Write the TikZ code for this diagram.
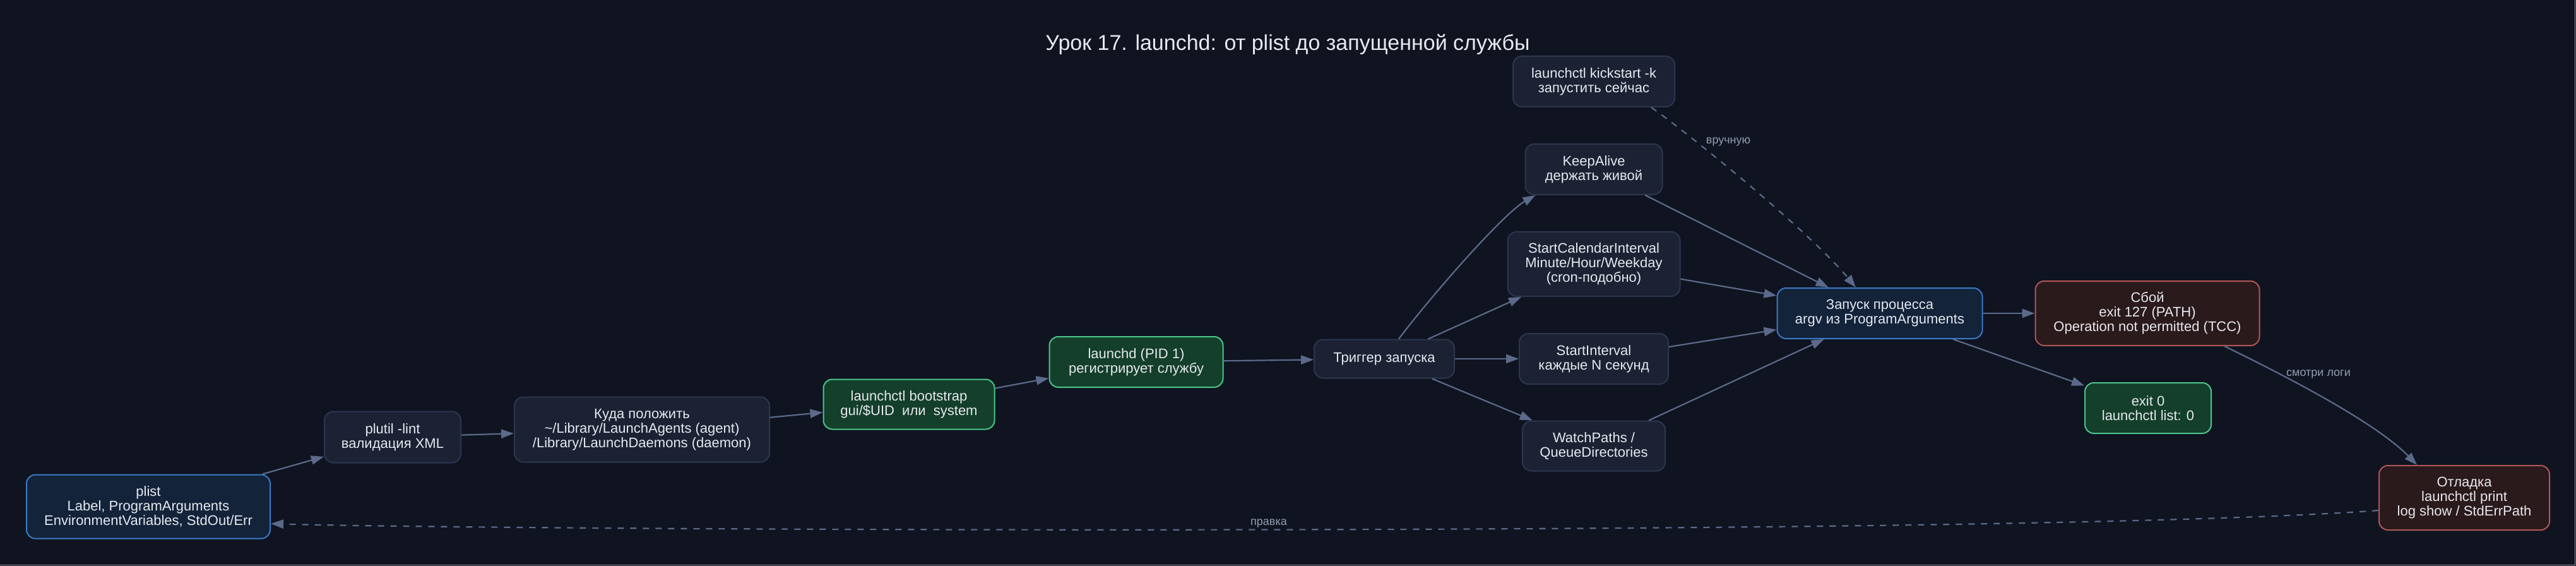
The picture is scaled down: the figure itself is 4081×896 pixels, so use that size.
\documentclass[tikz,border=0pt]{standalone}
\usepackage{fontspec}
\setmainfont{Liberation Sans}
\usetikzlibrary{arrows.meta}
\definecolor{bg}{HTML}{0F1420}
\definecolor{txt}{HTML}{E6E9EF}
\definecolor{lblc}{HTML}{939DB3}
\definecolor{edgec}{HTML}{5B6A8A}
\definecolor{dkfill}{HTML}{1C2233}
\definecolor{dkline}{HTML}{2C3650}
\definecolor{blfill}{HTML}{13233A}
\definecolor{blline}{HTML}{3A7AC4}
\definecolor{grfill}{HTML}{143F2B}
\definecolor{grline}{HTML}{4CC48A}
\definecolor{rdfill}{HTML}{2A1A1C}
\definecolor{rdline}{HTML}{B05656}
\definecolor{framec}{HTML}{8A8E96}
\tikzset{
  box/.style={draw, rounded corners=14pt, line width=2pt, align=center, inner sep=0pt,
    font=\fontsize{22}{23}\selectfont, text=txt},
  dk/.style={box, fill=dkfill, draw=dkline},
  bl/.style={box, fill=blfill, draw=blline},
  gr/.style={box, fill=grfill, draw=grline},
  rd/.style={box, fill=rdfill, draw=rdline},
  arr/.style={draw=edgec, line width=2.2pt, -{Triangle[length=20pt,width=14pt]}},
  dsh/.style={arr, dash pattern=on 10pt off 10pt},
  lbl/.style={text=lblc, font=\fontsize{18}{20}\selectfont, inner sep=0pt}
}
\begin{document}
\begin{tikzpicture}[x=1pt,y=1pt]
\fill[bg] (0,0) rectangle (4081,-896);
\useasboundingbox (0,0) rectangle (4081,-896);
\draw[framec, line width=1.5pt] (0,-894.5) -- (4079.5,-894.5) -- (4079.5,0);

\node[font=\fontsize{34}{40}\selectfont, text=txt] (title) at (2040,-70) {Урок 17. launchd: от plist до запущенной службы};

\node[bl, minimum width=386pt, minimum height=101pt] (plist) at (235,-802) {plist\\Label, ProgramArguments\\EnvironmentVariables, StdOut/Err};
\node[dk, minimum width=216pt, minimum height=81pt] (plutil) at (622,-692) {plutil -lint\\валидация XML};
\node[dk, minimum width=404pt, minimum height=103pt] (kuda) at (1017,-680) {Куда положить\\\textasciitilde/Library/LaunchAgents (agent)\\/Library/LaunchDaemons (daemon)};
\node[gr, minimum width=271pt, minimum height=79pt] (boot) at (1440,-640) {launchctl bootstrap\\gui/\$UID\ \ или\ \ system};
\node[gr, minimum width=275pt, minimum height=80pt] (launchd) at (1800,-573) {launchd (PID 1)\\регистрирует службу};
\node[dk, minimum width=222pt, minimum height=61pt] (trig) at (2193,-568) {Триггер запуска};
\node[dk, minimum width=256pt, minimum height=80pt] (kick) at (2525,-129) {launchctl kickstart -k\\запустить сейчас};
\node[dk, minimum width=217pt, minimum height=80pt] (keep) at (2525,-268) {KeepAlive\\держать живой};
\node[dk, minimum width=273pt, minimum height=102pt] (cal) at (2525,-418) {StartCalendarInterval\\Minute/Hour/Weekday\\(cron-подобно)};
\node[dk, minimum width=236pt, minimum height=80pt] (intv) at (2525,-568) {StartInterval\\каждые N секунд};
\node[dk, minimum width=226pt, minimum height=79pt] (watch) at (2525,-706) {WatchPaths /\\QueueDirectories};
\node[bl, minimum width=325pt, minimum height=80pt] (zap) at (2978,-496) {Запуск процесса\\argv из ProgramArguments};
\node[rd, minimum width=355pt, minimum height=102pt] (sboy) at (3402,-496) {Сбой\\exit 127 (PATH)\\Operation not permitted (TCC)};
\node[gr, minimum width=200pt, minimum height=80pt] (exit0) at (3403,-646) {exit 0\\launchctl list: 0};
\node[rd, minimum width=270pt, minimum height=102pt] (otl) at (3904,-788) {Отладка\\launchctl print\\log show / StdErrPath};

\draw[arr] (plist) -- (plutil);
\draw[arr] (plutil) -- (kuda);
\draw[arr] (kuda) -- (boot);
\draw[arr] (boot) -- (launchd);
\draw[arr] (launchd) -- (trig);
\draw[arr] ([xshift=23pt]trig.north) .. controls (2270,-465) and (2382,-338) .. ([xshift=17pt]keep.south west);
\draw[arr] (trig) -- (cal);
\draw[arr] (trig) -- (intv);
\draw[arr] (trig) -- (watch);
\draw[arr] (keep) -- (zap);
\draw[dsh] ([xshift=91pt]kick.south) .. controls (2680,-215) and (2870,-370) .. ([xshift=-38pt]zap.north);
\draw[arr] (cal) -- (zap);
\draw[arr] (intv) -- (zap);
\draw[arr] (watch) -- (zap);
\draw[arr] (zap) -- (sboy);
\draw[arr] (zap) -- (exit0);
\draw[arr] ([xshift=122pt]sboy.south) .. controls (3600,-585) and (3760,-665) .. ([xshift=-75pt]otl.north);
\draw[dsh] ([yshift=-20pt]otl.west) .. controls (3200,-850) and (800,-840) .. ([yshift=-27pt]plist.east);

\node[lbl] (l1) at (2738,-225) {вручную};
\node[lbl] (l2) at (3673,-593) {смотри логи};
\node[lbl] (l3) at (2010,-829) {правка};
\end{tikzpicture}
\end{document}
